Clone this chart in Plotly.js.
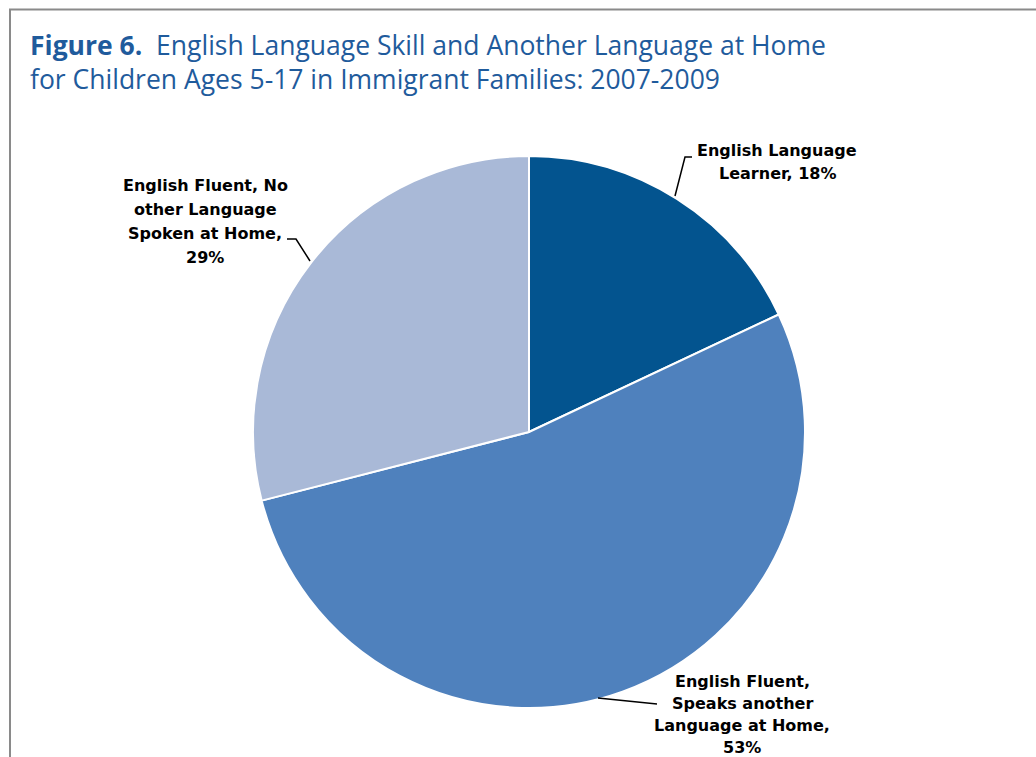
<!DOCTYPE html>
<html>
<head>
<meta charset="utf-8">
<script src="https://cdn.plot.ly/plotly-3.0.1.min.js"></script>
<style>html,body{margin:0;padding:0;background:#fff;}#chart{width:1036px;height:757px;}</style>
</head>
<body>
<div id="chart"></div>
<script>
const categories = [
  "English Language Learner",
  "English Fluent, Speaks another Language at Home",
  "English Fluent, No other Language Spoken at Home"
];
const values = [18, 53, 29];
const labelLines = [
  ["English Language", "Learner, 18%"],
  ["English Fluent,", "Speaks another", "Language at Home,", "53%"],
  ["English Fluent, No", "other Language", "Spoken at Home,", "29%"]
];
const colors = ["#03548f", "#4f81bd", "#a9b9d7"];

const W = 1036, H = 757;
const px = x => x / W;
const py = y => 1 - y / H;

const cx = 529, cy = 432, r = 276;

const labelFont = {family: "'DejaVu Sans', sans-serif", size: 16, color: "#000", weight: "bold"};
const labelPos = [
  {x: 777, y: 150, gap: 23.5},
  {x: 742, y: 681, gap: 22},
  {x: 205, y: 185, gap: 24}
];

const annotations = [];
labelLines.forEach((lines, i) => {
  lines.forEach((t, j) => {
    annotations.push({
      xref: "paper", yref: "paper",
      x: px(labelPos[i].x), y: py(labelPos[i].y + j * labelPos[i].gap),
      xanchor: "center", yanchor: "middle",
      text: "<b>" + t + "</b>", showarrow: false, font: labelFont
    });
  });
});

const lineStyle = {color: "#000", width: 1.5};
const shapes = [
  {type: "path", xref: "paper", yref: "paper",
   path: `M ${px(675)} ${py(196)} L ${px(685)} ${py(157)} L ${px(692)} ${py(157)}`, line: lineStyle},
  {type: "path", xref: "paper", yref: "paper",
   path: `M ${px(287)} ${py(239)} L ${px(296)} ${py(239)} L ${px(310)} ${py(261)}`, line: lineStyle},
  {type: "path", xref: "paper", yref: "paper",
   path: `M ${px(598)} ${py(698)} L ${px(657)} ${py(704)}`, line: lineStyle},
  {type: "path", xref: "paper", yref: "paper",
   path: `M ${px(10)} ${py(800)} L ${px(10)} ${py(9.5)} L ${px(1100)} ${py(9.5)}`,
   line: {color: "#8a8a8a", width: 2}}
];

const data = [{
  type: "pie",
  labels: categories,
  values: values,
  sort: false,
  direction: "clockwise",
  rotation: 0,
  textinfo: "none",
  hoverinfo: "label+percent",
  marker: {colors: colors, line: {color: "#ffffff", width: 2}},
  domain: {x: [px(cx - r), px(cx + r)], y: [py(cy + r), py(cy - r)]},
  showlegend: false
}];

const layout = {
  width: W, height: H,
  margin: {l: 0, r: 0, t: 0, b: 0},
  paper_bgcolor: "#fff",
  title: {
    text: "<b>Figure 6.</b>  English Language Skill and Another Language at Home<br>for Children Ages 5-17 in Immigrant Families: 2007-2009",
    x: px(30), xanchor: "left", xref: "paper",
    y: py(55), yanchor: "top", yref: "paper",
    font: {family: "'Open Sans', 'Noto Sans', sans-serif", size: 26.5, color: "#1f5b9c"}
  },
  annotations: annotations,
  shapes: shapes,
  showlegend: false
};

Plotly.newPlot("chart", data, layout, {displayModeBar: false, staticPlot: true});
</script>
</body>
</html>
